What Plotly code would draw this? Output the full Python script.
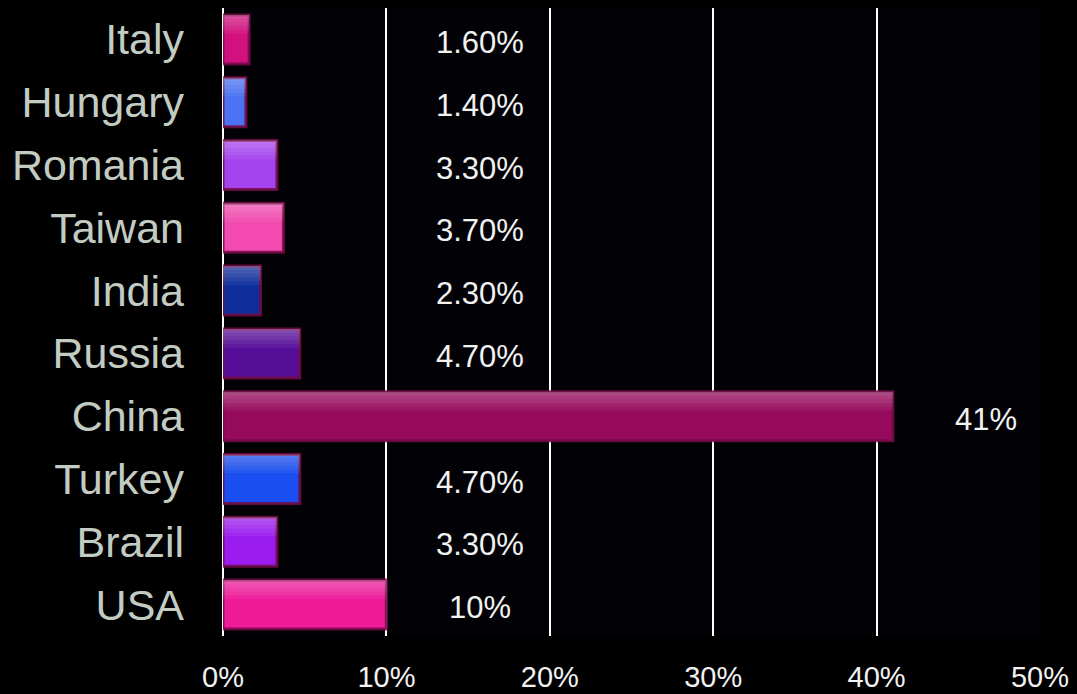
import plotly.graph_objects as go

countries = ["USA", "Brazil", "Turkey", "China", "Russia", "India", "Taiwan", "Romania", "Hungary", "Italy"]
shares = [10, 3.3, 4.7, 41, 4.7, 2.3, 3.7, 3.3, 1.4, 1.6]
share_labels = ["10%", "3.30%", "4.70%", "41%", "4.70%", "2.30%", "3.70%", "3.30%", "1.40%", "1.60%"]
bar_colors = ["#ee1a98", "#9a1cf0", "#1a4ef0", "#960a5c", "#560e98", "#0e2e9c",
              "#f24aae", "#a444f0", "#4a72f2", "#d2107e"]
tick_vals = [0, 10, 20, 30, 40, 50]
tick_text = ["0%", "10%", "20%", "30%", "40%", "50%"]

label_x = [max(v, 10) + 5.7 for v in shares]

BAR_W = 0.78
fig = go.Figure()
fig.add_trace(go.Bar(
    y=countries, x=shares, orientation="h", width=BAR_W,
    marker=dict(color=bar_colors, line=dict(color="rgba(115,12,70,0.85)", width=3)),
    hoverinfo="x+y", showlegend=False,
))
# glossy highlight on the top part of each bar (stacked translucent bands)
for w in [0.06, 0.12, 0.18, 0.24, 0.30]:
    fig.add_trace(go.Bar(
        y=countries, x=shares, orientation="h", width=w, offset=BAR_W / 2 - w,
        marker=dict(color="rgba(255,255,255,0.06)", line=dict(width=0)),
        hoverinfo="skip", showlegend=False,
    ))

for c, lx, t in zip(countries, label_x, share_labels):
    fig.add_annotation(
        x=lx, y=c, text=t, showarrow=False, yshift=-3,
        font=dict(family="Liberation Sans, Arial, sans-serif", size=31, color="#f2f2f2"),
    )

fig.update_layout(
    width=1077, height=694,
    margin=dict(l=223, r=37, t=8, b=58),
    paper_bgcolor="#000000", plot_bgcolor="#020206",
    barmode="overlay",
    font=dict(family="Liberation Sans, Arial, sans-serif"),
)
fig.update_xaxes(
    range=[0, 50], tickvals=tick_vals, ticktext=tick_text,
    showgrid=True, gridcolor="#ffffff", gridwidth=2,
    zeroline=True, zerolinecolor="#ffffff", zerolinewidth=2,
    showline=False, ticks="", ticklabelstandoff=21, automargin=False,
    tickfont=dict(size=29, color="#f2f2f2"), fixedrange=True,
)
fig.update_yaxes(
    categoryorder="array", categoryarray=countries,
    showgrid=False, zeroline=False, showline=False, ticks="",
    ticklabelstandoff=38, automargin=False,
    tickfont=dict(size=43, color="#c2ccc2"), fixedrange=True,
)

fig.write_html(
    "out.html",
    config={"displayModeBar": False},
    post_script="document.body.style.margin='0';document.body.style.background='#000';",
)
